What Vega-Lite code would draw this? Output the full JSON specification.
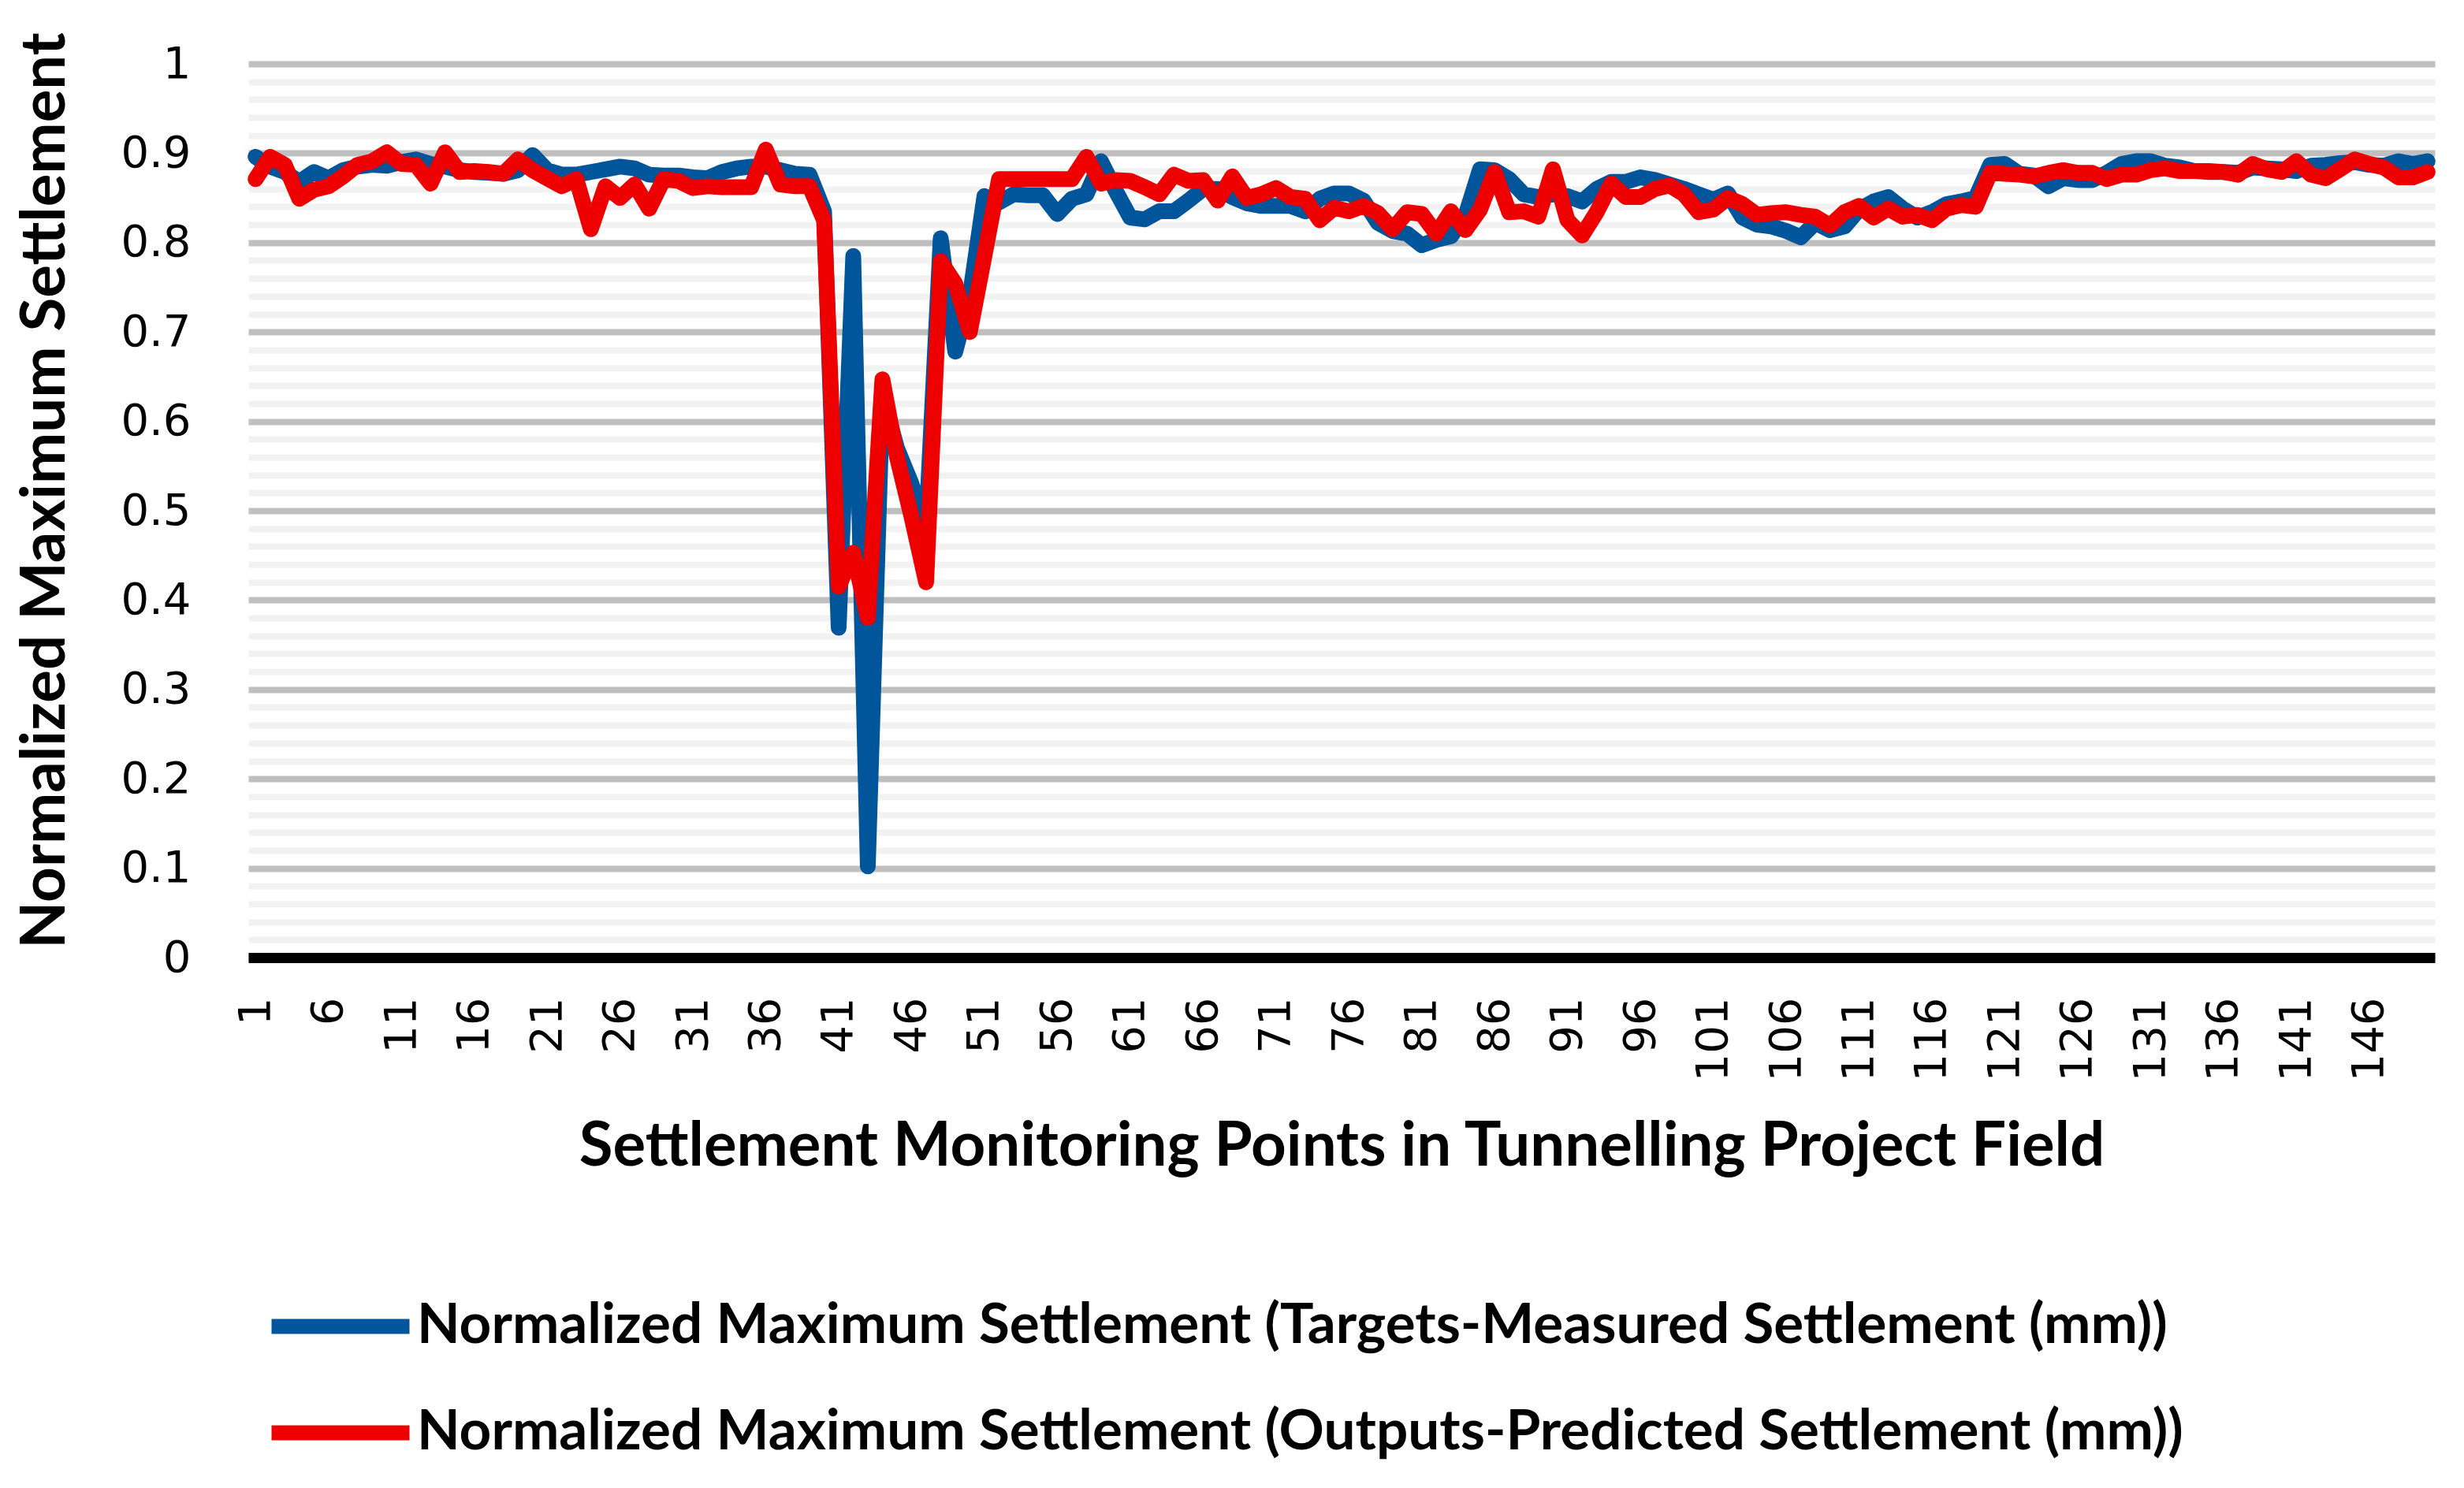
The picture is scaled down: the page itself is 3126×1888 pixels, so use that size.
{
  "$schema": "https://vega.github.io/schema/vega-lite/v6.json",
  "width": 2774,
  "height": 1134,
  "autosize": {"type": "none"},
  "padding": {"left": 315, "top": 81, "right": 37, "bottom": 673},
  "background": "white",
  "config": {"view": {"stroke": null}},
  "data": {"values": [
    {"p":1,"t":0.896,"o":0.871},{"p":2,"t":0.885,"o":0.896},{"p":3,"t":0.879,"o":0.887},{"p":4,"t":0.868,"o":0.849},{"p":5,"t":0.879,"o":0.859},
    {"p":6,"t":0.872,"o":0.863},{"p":7,"t":0.881,"o":0.874},{"p":8,"t":0.885,"o":0.887},{"p":9,"t":0.887,"o":0.891},{"p":10,"t":0.886,"o":0.901},
    {"p":11,"t":0.890,"o":0.888},{"p":12,"t":0.893,"o":0.887},{"p":13,"t":0.888,"o":0.866},{"p":14,"t":0.885,"o":0.901},{"p":15,"t":0.881,"o":0.879},
    {"p":16,"t":0.879,"o":0.880},{"p":17,"t":0.878,"o":0.879},{"p":18,"t":0.877,"o":0.877},{"p":19,"t":0.881,"o":0.893},{"p":20,"t":0.898,"o":0.881},
    {"p":21,"t":0.881,"o":0.872},{"p":22,"t":0.876,"o":0.863},{"p":23,"t":0.876,"o":0.871},{"p":24,"t":0.879,"o":0.815},{"p":25,"t":0.882,"o":0.863},
    {"p":26,"t":0.885,"o":0.850},{"p":27,"t":0.883,"o":0.865},{"p":28,"t":0.876,"o":0.838},{"p":29,"t":0.875,"o":0.871},{"p":30,"t":0.875,"o":0.869},
    {"p":31,"t":0.873,"o":0.861},{"p":32,"t":0.872,"o":0.863},{"p":33,"t":0.879,"o":0.862},{"p":34,"t":0.883,"o":0.862},{"p":35,"t":0.885,"o":0.862},
    {"p":36,"t":0.885,"o":0.904},{"p":37,"t":0.881,"o":0.865},{"p":38,"t":0.877,"o":0.863},{"p":39,"t":0.876,"o":0.863},{"p":40,"t":0.835,"o":0.825},
    {"p":41,"t":0.369,"o":0.415},{"p":42,"t":0.785,"o":0.453},{"p":43,"t":0.102,"o":0.380},{"p":44,"t":0.630,"o":0.647},{"p":45,"t":0.570,"o":0.560},
    {"p":46,"t":0.530,"o":0.493},{"p":47,"t":0.480,"o":0.420},{"p":48,"t":0.805,"o":0.779},{"p":49,"t":0.678,"o":0.754},{"p":50,"t":0.740,"o":0.700},
    {"p":51,"t":0.852,"o":0.785},{"p":52,"t":0.845,"o":0.871},{"p":53,"t":0.854,"o":0.871},{"p":54,"t":0.853,"o":0.871},{"p":55,"t":0.853,"o":0.871},
    {"p":56,"t":0.832,"o":0.871},{"p":57,"t":0.849,"o":0.871},{"p":58,"t":0.854,"o":0.896},{"p":59,"t":0.891,"o":0.866},{"p":60,"t":0.858,"o":0.870},
    {"p":61,"t":0.828,"o":0.869},{"p":62,"t":0.826,"o":0.862},{"p":63,"t":0.835,"o":0.854},{"p":64,"t":0.835,"o":0.876},{"p":65,"t":0.847,"o":0.869},
    {"p":66,"t":0.860,"o":0.870},{"p":67,"t":0.860,"o":0.847},{"p":68,"t":0.851,"o":0.874},{"p":69,"t":0.844,"o":0.850},{"p":70,"t":0.841,"o":0.854},
    {"p":71,"t":0.841,"o":0.861},{"p":72,"t":0.841,"o":0.851},{"p":73,"t":0.835,"o":0.849},{"p":74,"t":0.849,"o":0.825},{"p":75,"t":0.855,"o":0.839},
    {"p":76,"t":0.855,"o":0.835},{"p":77,"t":0.847,"o":0.841},{"p":78,"t":0.822,"o":0.833},{"p":79,"t":0.813,"o":0.815},{"p":80,"t":0.810,"o":0.834},
    {"p":81,"t":0.797,"o":0.832},{"p":82,"t":0.803,"o":0.810},{"p":83,"t":0.807,"o":0.835},{"p":84,"t":0.830,"o":0.814},{"p":85,"t":0.882,"o":0.837},
    {"p":86,"t":0.881,"o":0.879},{"p":87,"t":0.871,"o":0.834},{"p":88,"t":0.854,"o":0.835},{"p":89,"t":0.851,"o":0.829},{"p":90,"t":0.854,"o":0.882},
    {"p":91,"t":0.852,"o":0.825},{"p":92,"t":0.846,"o":0.808},{"p":93,"t":0.860,"o":0.834},{"p":94,"t":0.868,"o":0.866},{"p":95,"t":0.868,"o":0.851},
    {"p":96,"t":0.873,"o":0.851},{"p":97,"t":0.870,"o":0.860},{"p":98,"t":0.865,"o":0.864},{"p":99,"t":0.860,"o":0.854},{"p":100,"t":0.854,"o":0.834},
    {"p":101,"t":0.848,"o":0.837},{"p":102,"t":0.855,"o":0.850},{"p":103,"t":0.828,"o":0.843},{"p":104,"t":0.820,"o":0.831},{"p":105,"t":0.818,"o":0.833},
    {"p":106,"t":0.813,"o":0.834},{"p":107,"t":0.806,"o":0.831},{"p":108,"t":0.822,"o":0.829},{"p":109,"t":0.814,"o":0.819},{"p":110,"t":0.818,"o":0.834},
    {"p":111,"t":0.837,"o":0.841},{"p":112,"t":0.846,"o":0.828},{"p":113,"t":0.851,"o":0.838},{"p":114,"t":0.838,"o":0.829},{"p":115,"t":0.828,"o":0.831},
    {"p":116,"t":0.834,"o":0.825},{"p":117,"t":0.843,"o":0.838},{"p":118,"t":0.846,"o":0.842},{"p":119,"t":0.850,"o":0.840},{"p":120,"t":0.887,"o":0.878},
    {"p":121,"t":0.888,"o":0.877},{"p":122,"t":0.877,"o":0.876},{"p":123,"t":0.875,"o":0.874},{"p":124,"t":0.863,"o":0.878},{"p":125,"t":0.872,"o":0.881},
    {"p":126,"t":0.870,"o":0.878},{"p":127,"t":0.870,"o":0.878},{"p":128,"t":0.878,"o":0.871},{"p":129,"t":0.888,"o":0.876},{"p":130,"t":0.891,"o":0.876},
    {"p":131,"t":0.891,"o":0.881},{"p":132,"t":0.886,"o":0.883},{"p":133,"t":0.884,"o":0.880},{"p":134,"t":0.880,"o":0.880},{"p":135,"t":0.879,"o":0.880},
    {"p":136,"t":0.879,"o":0.879},{"p":137,"t":0.878,"o":0.876},{"p":138,"t":0.884,"o":0.888},{"p":139,"t":0.883,"o":0.882},{"p":140,"t":0.882,"o":0.879},
    {"p":141,"t":0.880,"o":0.891},{"p":142,"t":0.886,"o":0.876},{"p":143,"t":0.887,"o":0.872},{"p":144,"t":0.889,"o":0.882},{"p":145,"t":0.890,"o":0.893},
    {"p":146,"t":0.887,"o":0.888},{"p":147,"t":0.886,"o":0.884},{"p":148,"t":0.891,"o":0.873},{"p":149,"t":0.888,"o":0.873},{"p":150,"t":0.891,"o":0.879}
  ]},
  "layer": [
    {
      "mark": {"type": "line", "strokeWidth": 20, "strokeCap": "round", "strokeJoin": "round"},
      "encoding": {
        "x": {
          "field": "p", "type": "quantitative",
          "scale": {"domain": [0.5, 150.5], "nice": false, "zero": false},
          "axis": {
            "title": "Settlement Monitoring Points in Tunnelling Project Field",
            "values": [1,6,11,16,21,26,31,36,41,46,51,56,61,66,71,76,81,86,91,96,101,106,111,116,121,126,131,136,141,146],
            "tickCount": 200,
            "format": "d",
            "labelAngle": 270,
            "ticks": false,
            "grid": false,
            "domainColor": "black",
            "domainWidth": 13,
            "labelPadding": 50,
            "labelFont": "DejaVu Sans",
            "labelFontSize": 56,
            "labelColor": "black",
            "labelOverlap": false,
            "labelFlush": false,
            "labelBound": false,
            "titleFont": "Lato",
            "titleFontWeight": "bold",
            "titleFontSize": 78,
            "titleColor": "black",
            "titleY": 263,
            "titleBaseline": "alphabetic"
          }
        },
        "y": {
          "field": "t", "type": "quantitative",
          "scale": {"domain": [0, 1], "nice": false},
          "axis": {
            "title": "Normalized Maximum Settlement",
            "values": [0,0.02,0.04,0.06,0.08,0.1,0.12,0.14,0.16,0.18,0.2,0.22,0.24,0.26,0.28,0.3,0.32,0.34,0.36,0.38,0.4,0.42,0.44,0.46,0.48,0.5,0.52,0.54,0.56,0.58,0.6,0.62,0.64,0.66,0.68,0.7,0.72,0.74,0.76,0.78,0.8,0.82,0.84,0.86,0.88,0.9,0.92,0.94,0.96,0.98,1],
            "tickCount": 200,
            "labelExpr": "abs(datum.value*10 - round(datum.value*10)) < 0.001 ? format(datum.value, '.1~f') : ''",
            "ticks": false,
            "domain": false,
            "grid": true,
            "gridColor": {"condition": {"test": "abs(datum.value*10 - round(datum.value*10)) < 0.001", "value": "#BFBFBF"}, "value": "#F2F2F2"},
            "gridWidth": 8,
            "labelPadding": 73,
            "labelFont": "DejaVu Sans",
            "labelFontSize": 56,
            "labelColor": "black",
            "labelOverlap": false,
            "labelFlush": false,
            "labelBound": false,
            "titleFont": "Lato",
            "titleFontWeight": "bold",
            "titleFontSize": 78,
            "titleColor": "black",
            "titleAngle": 270,
            "titleX": -257,
            "titleY": 541,
            "titleBaseline": "middle"
          }
        },
        "color": {
          "datum": "Normalized Maximum Settlement (Targets-Measured Settlement (mm))",
          "scale": {
            "domain": ["Normalized Maximum Settlement (Targets-Measured Settlement (mm))", "Normalized Maximum Settlement (Outputs-Predicted Settlement (mm))"],
            "range": ["#00559B", "#EE0000"]
          },
          "legend": {
            "orient": "none",
            "legendX": 20,
            "legendY": 1505,
            "direction": "vertical",
            "title": null,
            "symbolType": "stroke",
            "symbolStrokeWidth": 19,
            "symbolSize": 30625,
            "labelFont": "Lato",
            "labelFontWeight": "bold",
            "labelFontSize": 71,
            "labelColor": "black",
            "labelLimit": 3000,
            "labelOffset": 0,
            "rowPadding": -52
          }
        }
      }
    },
    {
      "mark": {"type": "line", "strokeWidth": 20, "strokeCap": "round", "strokeJoin": "round"},
      "encoding": {
        "x": {"field": "p", "type": "quantitative"},
        "y": {"field": "o", "type": "quantitative", "axis": {"title": "Normalized Maximum Settlement"}},
        "color": {"datum": "Normalized Maximum Settlement (Outputs-Predicted Settlement (mm))"}
      }
    }
  ]
}
